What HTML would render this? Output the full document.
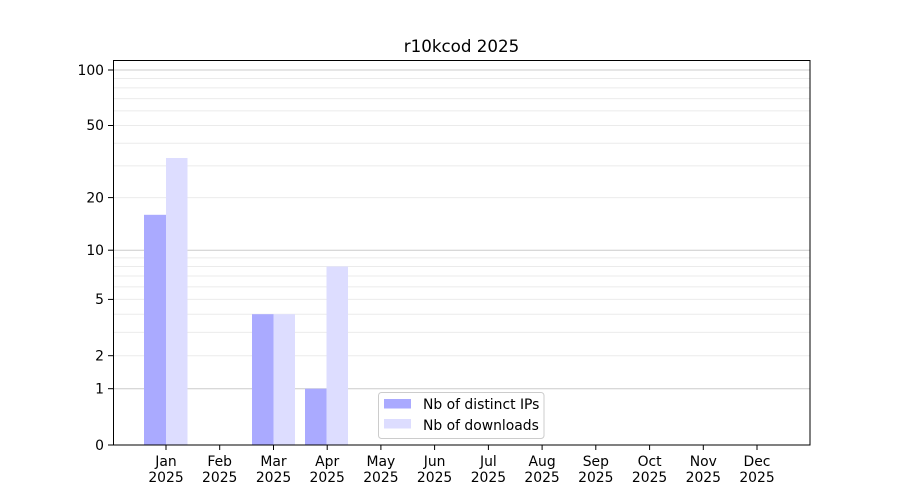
<!DOCTYPE html>
<html><head><meta charset="utf-8"><style>html,body{margin:0;padding:0;background:#fff}svg{display:block}text{font-family:"DejaVu Sans","Liberation Sans",sans-serif;font-size:13.9px;fill:#000}</style></head>
<body>
<svg width="900" height="500" viewBox="0 0 900 500" xmlns="http://www.w3.org/2000/svg">
<rect width="900" height="500" fill="#fff"/>
<g stroke="#ebebeb" stroke-width="1">
<line x1="113" x2="810" y1="355.7" y2="355.7"/><line x1="113" x2="810" y1="332.4" y2="332.4"/>
<line x1="113" x2="810" y1="314.2" y2="314.2"/><line x1="113" x2="810" y1="299.4" y2="299.4"/>
<line x1="113" x2="810" y1="286.9" y2="286.9"/><line x1="113" x2="810" y1="276" y2="276"/>
<line x1="113" x2="810" y1="266.5" y2="266.5"/><line x1="113" x2="810" y1="257.9" y2="257.9"/>
<line x1="113" x2="810" y1="197.6" y2="197.6"/><line x1="113" x2="810" y1="165.9" y2="165.9"/>
<line x1="113" x2="810" y1="143.2" y2="143.2"/><line x1="113" x2="810" y1="125.5" y2="125.5"/>
<line x1="113" x2="810" y1="110.9" y2="110.9"/><line x1="113" x2="810" y1="98.6" y2="98.6"/>
<line x1="113" x2="810" y1="87.9" y2="87.9"/><line x1="113" x2="810" y1="78.5" y2="78.5"/>
</g>
<g stroke="#cccccc" stroke-width="1">
<line x1="113" x2="810" y1="388.7" y2="388.7"/><line x1="113" x2="810" y1="250.2" y2="250.2"/><line x1="113" x2="810" y1="70" y2="70"/>
</g>
<g fill="#aaaaff">
<rect x="144" y="214.8" width="22" height="230.2"/>
<rect x="252" y="314.2" width="21.5" height="130.8"/>
<rect x="305" y="388.7" width="21.5" height="56.3"/>
</g>
<g fill="#ddddff">
<rect x="166" y="158" width="21.5" height="287"/>
<rect x="273.5" y="314.2" width="21.5" height="130.8"/>
<rect x="326.5" y="266.5" width="21.5" height="178.5"/>
</g>
<rect x="113.5" y="60.5" width="696.5" height="384.5" fill="none" stroke="#000" stroke-width="1"/>
<g stroke="#000">
<line x1="108" x2="113" y1="445" y2="445"/><line x1="108" x2="113" y1="388.7" y2="388.7"/>
<line x1="108" x2="113" y1="355.7" y2="355.7"/><line x1="108" x2="113" y1="299.4" y2="299.4"/>
<line x1="108" x2="113" y1="250.2" y2="250.2"/><line x1="108" x2="113" y1="197.6" y2="197.6"/>
<line x1="108" x2="113" y1="125.5" y2="125.5"/><line x1="108" x2="113" y1="70" y2="70"/>
</g>
<g text-anchor="end">
<text x="104" y="450">0</text><text x="104" y="393.5">1</text><text x="104" y="360.5">2</text>
<text x="104" y="304">5</text><text x="104" y="255">10</text><text x="104" y="202.5">20</text>
<text x="104" y="130">50</text><text x="104" y="75">100</text>
</g>
<g stroke="#000">
<line x1="166" x2="166" y1="445" y2="450"/><line x1="219.7" x2="219.7" y1="445" y2="450"/><line x1="273.5" x2="273.5" y1="445" y2="450"/><line x1="327.2" x2="327.2" y1="445" y2="450"/><line x1="380.9" x2="380.9" y1="445" y2="450"/><line x1="434.6" x2="434.6" y1="445" y2="450"/><line x1="488.4" x2="488.4" y1="445" y2="450"/><line x1="542.1" x2="542.1" y1="445" y2="450"/><line x1="595.8" x2="595.8" y1="445" y2="450"/><line x1="649.6" x2="649.6" y1="445" y2="450"/><line x1="703.3" x2="703.3" y1="445" y2="450"/><line x1="757" x2="757" y1="445" y2="450"/>
</g>
<g text-anchor="middle">
<text x="166" y="466">Jan</text><text x="166" y="482">2025</text>
<text x="219.7" y="466">Feb</text><text x="219.7" y="482">2025</text>
<text x="273.5" y="466">Mar</text><text x="273.5" y="482">2025</text>
<text x="327.2" y="466">Apr</text><text x="327.2" y="482">2025</text>
<text x="380.9" y="466">May</text><text x="380.9" y="482">2025</text>
<text x="434.6" y="466">Jun</text><text x="434.6" y="482">2025</text>
<text x="488.4" y="466">Jul</text><text x="488.4" y="482">2025</text>
<text x="542.1" y="466">Aug</text><text x="542.1" y="482">2025</text>
<text x="595.8" y="466">Sep</text><text x="595.8" y="482">2025</text>
<text x="649.6" y="466">Oct</text><text x="649.6" y="482">2025</text>
<text x="703.3" y="466">Nov</text><text x="703.3" y="482">2025</text>
<text x="757" y="466">Dec</text><text x="757" y="482">2025</text>
<text x="461.5" y="52" style="font-size:16.7px">r10kcod 2025</text>
</g>
<rect x="378.5" y="392.5" width="165.5" height="46" rx="3" fill="#fff" fill-opacity="0.8" stroke="#cccccc"/>
<rect x="384" y="399" width="27" height="9.5" fill="#aaaaff"/>
<rect x="384" y="419" width="27" height="9.5" fill="#ddddff"/>
<text x="423" y="409">Nb of distinct IPs</text>
<text x="423" y="430">Nb of downloads</text>
</svg>
</body></html>
